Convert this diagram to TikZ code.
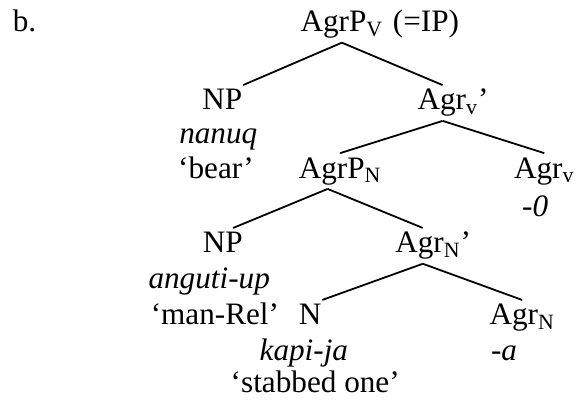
\documentclass[tikz,border=0pt]{standalone}
\usepackage{fontspec}
\setmainfont{Liberation Serif}
\usepackage{tikz}
\usetikzlibrary{positioning}
\newcommand{\treefont}{\fontsize{15.6bp}{18bp}\selectfont}
\tikzset{cat/.style={inner sep=0pt, anchor=base, text height=12bp, text depth=5bp}}
\tikzset{form/.style={inner sep=0pt, anchor=base, font=\treefont\itshape}}
\tikzset{trans/.style={inner sep=0pt, anchor=base}}

\begin{document}
\begin{tikzpicture}[font=\treefont, line width=0.9pt]
  \useasboundingbox (0,0) rectangle (10.16,-7.18);

  \node [trans, anchor=base west] (ex) at (0.21,-0.56) {b.};

  \node [cat] (root) at (6.03,-0.56) {AgrP\textsubscript{V}};
  \node [trans, base right=0.14 of root] (eqip) {(=IP)};

  \node [cat] (np1) at (3.92,-1.94) {NP};
  \node [form] (nanuq) at (3.85,-2.53) {nanuq};
  \node [trans] (bear) at (3.81,-3.14) {`bear'};

  \node [cat] (agrv1) at (7.99,-1.94) {Agr\textsubscript{v}'};
  \node [cat] (agrpn) at (6.00,-3.14) {AgrP\textsubscript{N}};
  \node [cat] (agrv2) at (9.60,-3.14) {Agr\textsubscript{v}};
  \node [form] (zero) at (9.44,-3.81) {-0};

  \node [cat] (np2) at (3.93,-4.46) {NP};
  \node [form] (anguti) at (3.69,-5.08) {anguti-up};
  \node [trans] (manrel) at (3.79,-5.73) {`man-Rel'};

  \node [cat] (agrn1) at (7.64,-4.46) {Agr\textsubscript{N}'};
  \node [cat] (n) at (5.47,-5.73) {N};
  \node [form] (kapija) at (5.36,-6.35) {kapi-ja};
  \node [trans] (stabbed) at (5.56,-6.93) {`stabbed one'};
  \node [cat] (agrn2) at (9.21,-5.73) {Agr\textsubscript{N}};
  \node [form] (suffa) at (8.89,-6.35) {-a};

  \draw[] (root.south) -- (np1.north east);
  \draw[] (root.south) -- (agrv1.120);

  \draw[] (agrv1.240) -- (agrpn.north);
  \draw[] (agrv1.240) -- (agrv2.north);

  \draw[] (agrpn.235) -- (np2.60);
  \draw[] (agrpn.235) -- (agrn1.120);

  \draw[] (agrn1.240) -- (n.north east);
  \draw[] (agrn1.240) -- (agrn2.north);

\end{tikzpicture}
\end{document}
